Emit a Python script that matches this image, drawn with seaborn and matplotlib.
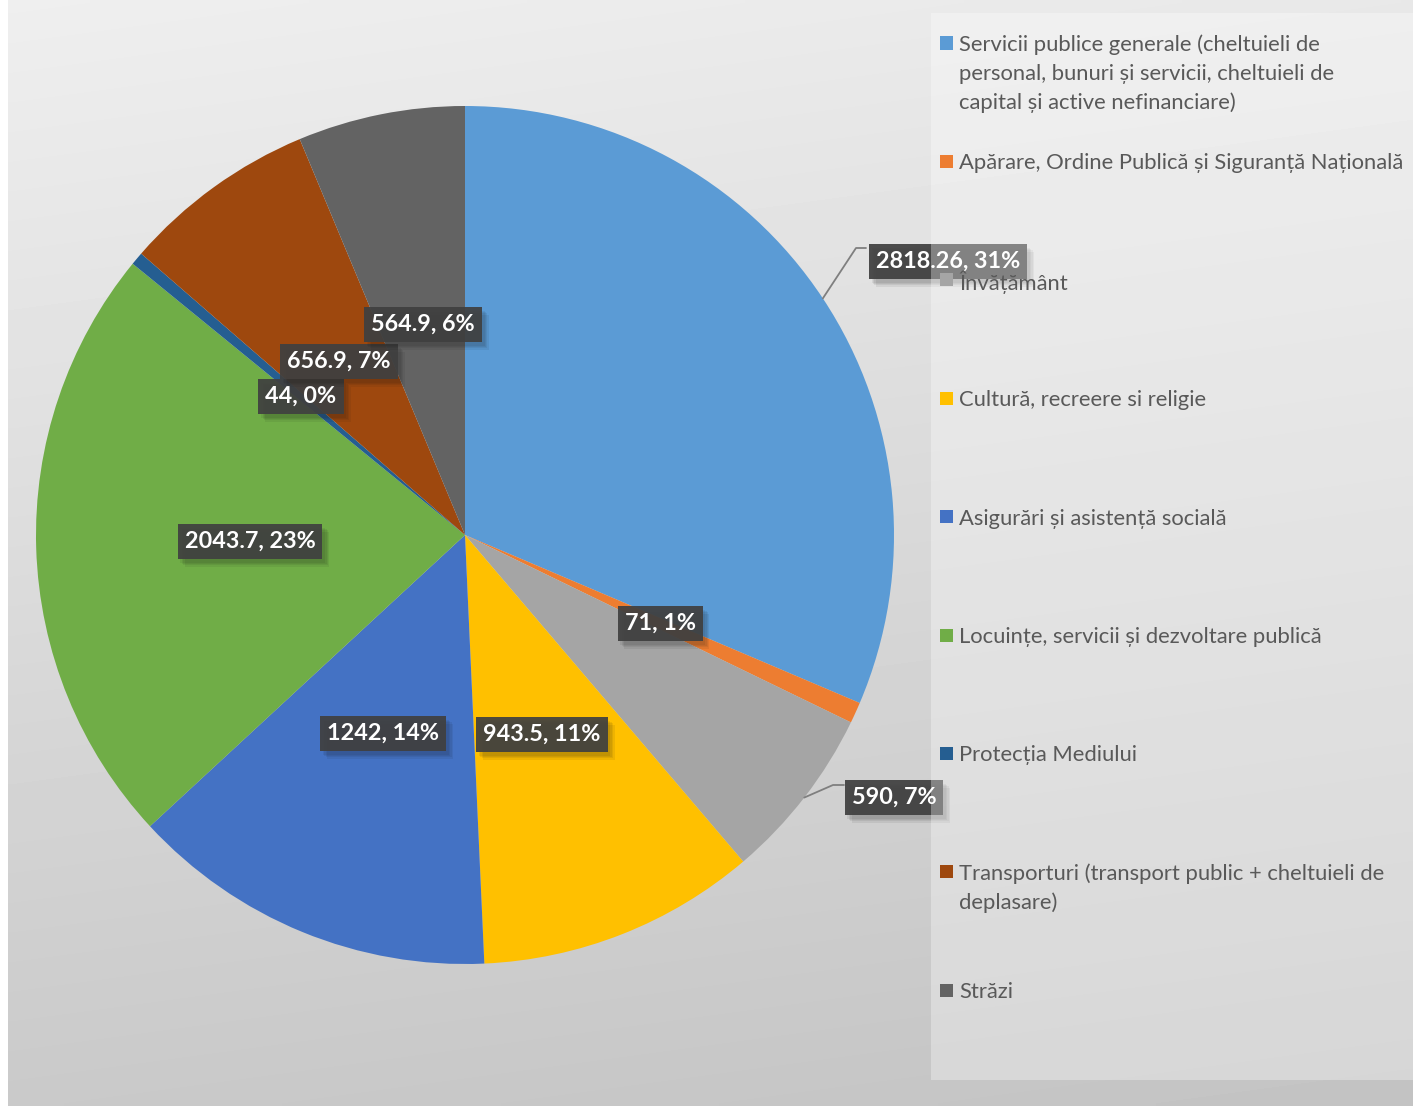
import numpy as np
import matplotlib
matplotlib.use("Agg")
import matplotlib.pyplot as plt
import matplotlib.patheffects as pe
from matplotlib.patches import Rectangle
import seaborn as sns

#---------------------Datos------------------
categorii = [
    "Servicii publice generale (cheltuieli de personal, bunuri și servicii, cheltuieli de capital și active nefinanciare)",
    "Apărare, Ordine Publică și Siguranță Națională",
    "Învățământ",
    "Cultură, recreere si religie",
    "Asigurări și asistență socială",
    "Locuințe, servicii și dezvoltare publică",
    "Protecția Mediului",
    "Transporturi (transport public + cheltuieli de deplasare)",
    "Străzi",
]
# legend lines as wrapped in the original
legenda_linii = [
    ["Servicii publice generale (cheltuieli de", "personal, bunuri și servicii, cheltuieli de", "capital și active nefinanciare)"],
    ["Apărare, Ordine Publică și Siguranță Națională"],
    ["Învățământ"],
    ["Cultură, recreere si religie"],
    ["Asigurări și asistență socială"],
    ["Locuințe, servicii și dezvoltare publică"],
    ["Protecția Mediului"],
    ["Transporturi (transport public + cheltuieli de", "deplasare)"],
    ["Străzi"],
]
valori = [2818.26, 71, 590, 943.5, 1242, 2043.7, 44, 656.9, 564.9]
culori = ["#5B9BD5", "#ED7D31", "#A5A5A5", "#FFC000", "#4472C4",
          "#70AD47", "#255E91", "#9E480E", "#636363"]

# label centres in pixels (as placed in the original)
pozitii_etichete = [(948, 261), (660, 623), (894, 797), (542, 734), (383, 733),
                    (250, 541), (301, 396), (339, 361), (423, 324)]
# leader lines (elbow, end) for the labels placed outside
lideri = {0: [(856, 248), (866, 248)], 2: [(833, 785), (844, 785)]}

#---------------------Estilo------------------
sns.set_theme(style="white")
plt.rcParams["font.family"] = ["Lato", "DejaVu Sans"]
paleta = sns.color_palette(culori)

W, H = 1413, 1106
cx, cy, R = 465, 535, 429

fig = plt.figure(figsize=(W / 100, H / 100), dpi=100)
fig.patch.set_facecolor("white")

# fondo degradado
bg = fig.add_axes([0, 0, 1, 1])
yy, xx = np.mgrid[0:1:200j, 0:1:200j]
grad = 0.935 - 0.145 * yy - 0.025 * xx
bg.imshow(grad, cmap="gray", vmin=0, vmax=1, extent=[8, W, H, 0],
          aspect="auto", interpolation="bilinear")
bg.set_xlim(0, W)
bg.set_ylim(H, 0)
bg.axis("off")

# pastel
ax = fig.add_axes([0, 0, 1, 1])
ax.set_facecolor("none")
wedges, _ = ax.pie(valori, colors=paleta, startangle=90, counterclock=False,
                   radius=1, wedgeprops=dict(linewidth=0))
ax.set_xlim(-cx / R, (W - cx) / R)
ax.set_ylim(-(H - cy) / R, cy / R)
ax.set_aspect("auto")
ax.axis("off")


def px2d(px, py):
    return (px - cx) / R, (cy - py) / R


total = sum(valori)
for i, (w, v) in enumerate(zip(wedges, valori)):
    x, y = px2d(*pozitii_etichete[i])
    if i in lideri:
        mid = np.deg2rad((w.theta1 + w.theta2) / 2)
        pts = [(np.cos(mid), np.sin(mid))] + [px2d(*p) for p in lideri[i]]
        xs, ys = zip(*pts)
        ax.plot(xs, ys, color="#7f7f7f", lw=1.3, zorder=3)
    t = ax.text(x, y, f"{v:g}, {v / total:.0%}", ha="center", va="center",
                color="white", fontsize=16.8, fontweight="bold", zorder=5,
                bbox=dict(boxstyle="square,pad=0.3", fc="#404040", ec="none", alpha=0.93))
    # sombra suave: varias capas desplazadas
    t.get_bbox_patch().set_path_effects(
        [pe.SimplePatchShadow(offset=(d, -d - 1), alpha=0.07) for d in (2, 3, 4, 5)]
        + [pe.Normal()])

# leyenda
def fx(px):
    return px / W


def fy(py):
    return 1 - py / H


fig.add_artist(Rectangle((fx(931), fy(1080)), fx(W) - fx(931), fy(13) - fy(1080),
                         transform=fig.transFigure, fc="white", alpha=0.32,
                         ec="none", zorder=1))
for i, linii in enumerate(legenda_linii):
    y0 = 43 + 118.4 * i
    fig.add_artist(Rectangle((fx(940), fy(y0 + 6.5)), fx(13), 13 / H,
                             transform=fig.transFigure, fc=paleta[i], ec="none", zorder=2))
    for j, linie in enumerate(linii):
        fig.text(fx(959), fy(y0 + 29 * j), linie, ha="left", va="center_baseline",
                 color="#595959", fontsize=15.8, zorder=3)

fig.savefig("out.png", dpi=100)
